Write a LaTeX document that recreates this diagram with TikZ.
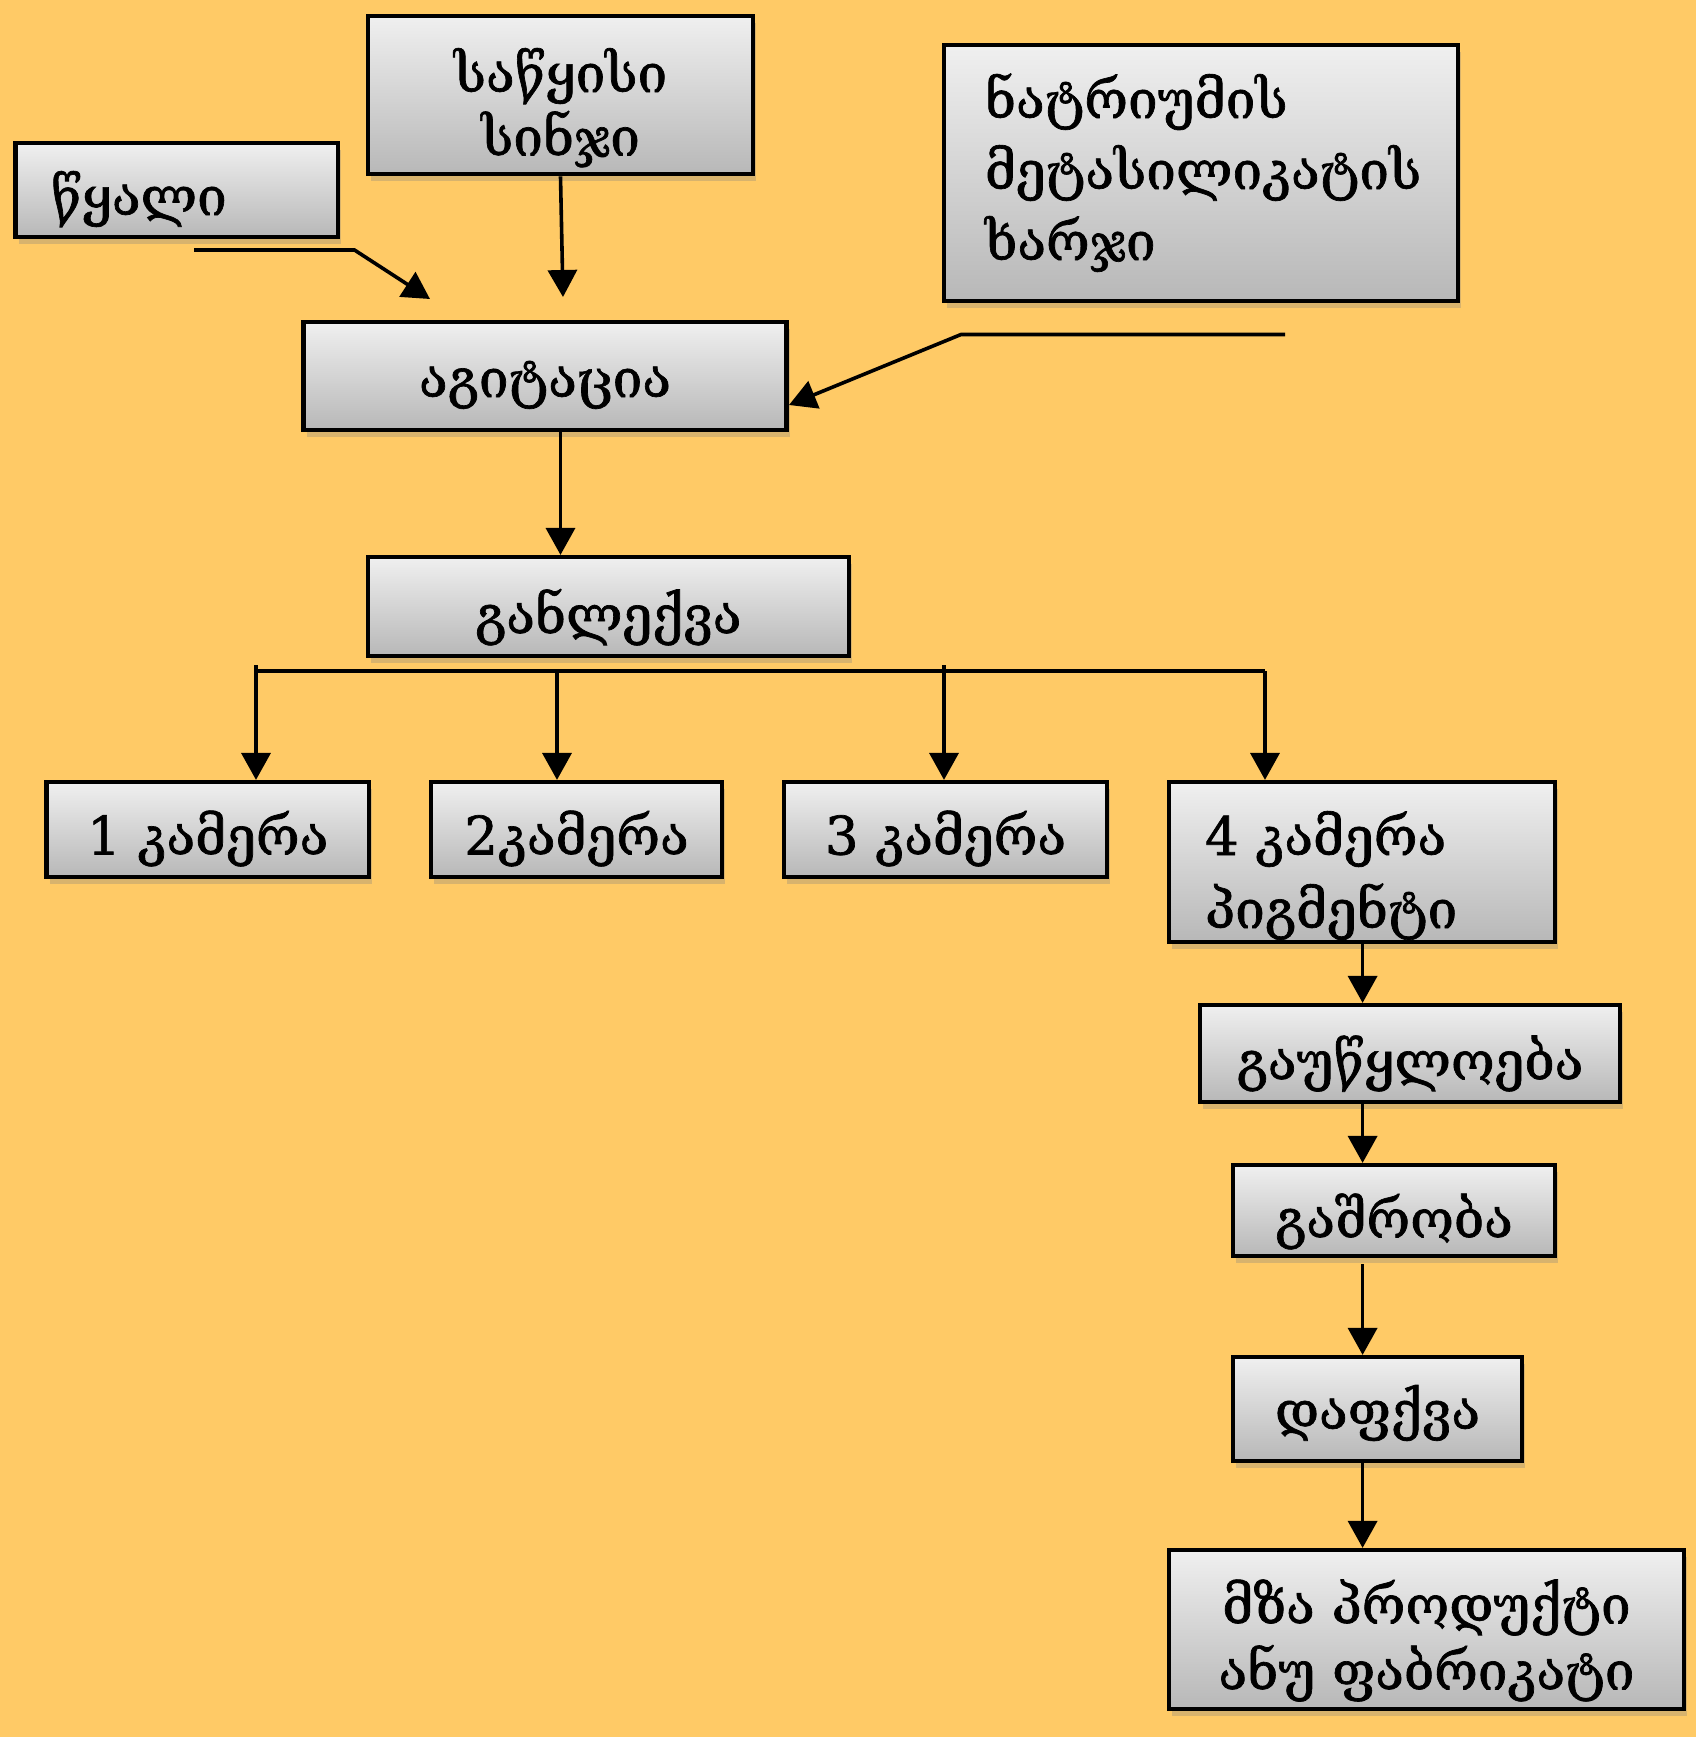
\documentclass[tikz,border=0pt]{standalone}
\usepackage{fontspec}
\setmainfont{DejaVu Serif}[FakeBold=1.3]
\usetikzlibrary{arrows.meta,shadows}
\definecolor{bg}{HTML}{FFCA66}
\newcommand{\ctext}[2]{\raisebox{#1}[0pt][0pt]{\begin{tabular}[t]{@{}c@{}}#2\end{tabular}}}
\newcommand{\ltext}[3]{\raisebox{#1}[0pt][0pt]{\makebox[#2][l]{\begin{tabular}[t]{@{}l@{}}#3\end{tabular}}}}
\newcommand{\fs}[1]{\fontsize{26.5}{#1}\selectfont}
\begin{document}
\begin{tikzpicture}[x=0.5pt,y=-0.5pt,
  box/.style={draw=black, line width=2.1pt, top color=black!6, bottom color=black!28,
    drop shadow={shadow xshift=1.5pt,shadow yshift=-3.5pt,opacity=0.3},
    inner sep=0pt, font=\fs{33pt}},
  arr/.style={line width=1.8pt, -{Triangle[length=13.5pt,width=14.5pt]}},
  busline/.style={line width=2.4pt}]
\useasboundingbox[fill=bg] (0,0) rectangle (1696,1737);

% boxes
\node[box, minimum width=192.5pt, minimum height=79.25pt] (sinji) at (560.5,95)
  {\fs{31.5pt}\ctext{1.5pt}{საწყისი\\სინჯი}};
\node[box, minimum width=161.25pt, minimum height=47pt] (tsqali) at (176.75,190)
  {\ltext{-12.5pt}{125.75pt}{წყალი}};
\node[box, minimum width=257pt, minimum height=128pt] (natr) at (1201,173)
  {\fs{35.5pt}\ltext{27.5pt}{216pt}{ნატრიუმის\\მეტასილიკატის\\ხარჯი}};
\node[box, minimum width=241.5pt, minimum height=54pt] (agit) at (545,376)
  {\ctext{-10.5pt}{აგიტაცია}};
\node[box, minimum width=240.3pt, minimum height=49.5pt] (ganl) at (608.3,606.5)
  {\ctext{-13.5pt}{განლექვა}};
\node[box, minimum width=161.25pt, minimum height=47.5pt] (k1) at (207.75,829.5)
  {\ctext{-12.5pt}{1 კამერა}};
\node[box, minimum width=145.5pt, minimum height=47.5pt] (k2) at (576.5,829.5)
  {\ctext{-12.5pt}{2კამერა}};
\node[box, minimum width=161.5pt, minimum height=47.5pt] (k3) at (945.5,829.5)
  {\ctext{-12.5pt}{3 კამერა}};
\node[box, minimum width=193pt, minimum height=80pt] (k4) at (1362,862)
  {\fs{36.5pt}\ltext{3.5pt}{157pt}{4 კამერა\\პიგმენტი}};
\node[box, minimum width=210pt, minimum height=48.5pt] (gauw) at (1410,1053.5)
  {\ctext{-13pt}{გაუწყლოება}};
\node[box, minimum width=161pt, minimum height=45.5pt] (gashr) at (1394,1210.5)
  {\ctext{-13.5pt}{გაშრობა}};
\node[box, minimum width=144.5pt, minimum height=52pt] (dapq) at (1377.5,1409)
  {\ctext{-10pt}{დაფქვა}};
\node[box, minimum width=257.5pt, minimum height=79.5pt] (mza) at (1426.5,1629.5)
  {\ctext{3pt}{მზა პროდუქტი\\ანუ ფაბრიკატი}};

% inputs to agitation
\coordinate (sT) at (563,297);
\draw[arr] (sinji.south) -- (sT);
\coordinate (w1) at (194,250);
\coordinate (w2) at (354.5,250);
\coordinate (wT) at (430,299);
\draw[arr] (w1) -- (w2) -- (wT);
\coordinate (n1) at (1285,334.5);
\coordinate (n2) at (961,334.5);
\coordinate (nT) at (789,405);
\draw[arr] (n1) -- (n2) -- (nT);

\draw[arr] (agit.south -| 560.5,0) -- (ganl.north -| 560.5,0);

% bus to chambers
\coordinate (b1) at (256,671);
\coordinate (b2) at (557,671);
\coordinate (b3) at (944,671);
\coordinate (b4) at (1265,671);
\draw[busline] (b1) -- (b4);
\draw[arr] ([yshift=3pt]b1) -- (b1 |- k1.north);
\draw[arr] (b2) -- (b2 |- k2.north);
\draw[arr] ([yshift=3pt]b3) -- (b3 |- k3.north);
\draw[arr] (b4) -- (b4 |- k4.north);

% chain
\coordinate (c) at (1362.6,0);
\draw[arr] (k4.south -| c) -- (gauw.north -| c);
\draw[arr] (gauw.south -| c) -- (gashr.north -| c);
\draw[arr] ([yshift=-3pt]gashr.south -| c) -- (dapq.north -| c);
\draw[arr] (dapq.south -| c) -- (mza.north -| c);
\end{tikzpicture}
\end{document}
